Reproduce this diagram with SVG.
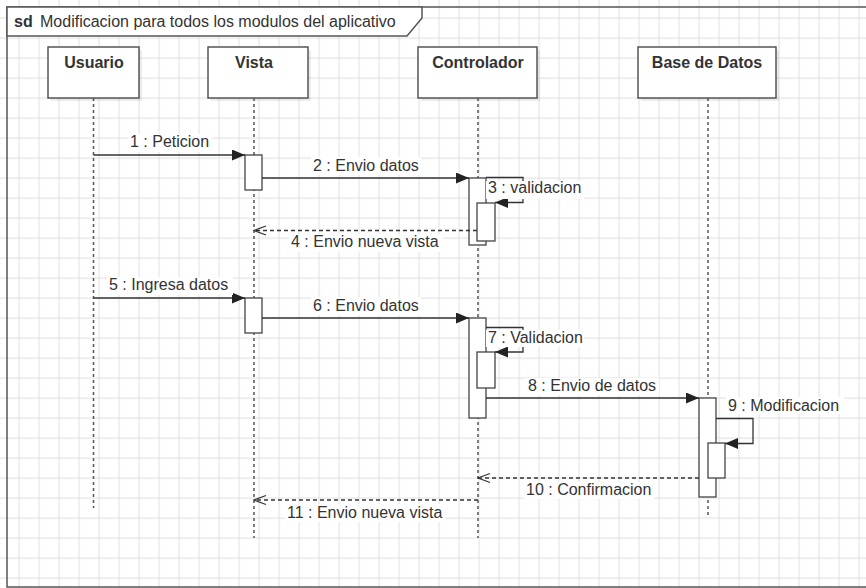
<svg xmlns="http://www.w3.org/2000/svg" width="866" height="588" viewBox="0 0 866 588">
  <style>
    .lbl { font-family: "Liberation Sans", Arial, sans-serif; font-size: 16px; fill: #333; }
    .name { font-family: "Liberation Sans", Arial, sans-serif; font-size: 16px; font-weight: bold; fill: #333; text-anchor: middle; }
    .box { fill: #fff; stroke: #555; stroke-width: 1.5; }
    .shadow { fill: #000; opacity: 0.07; }
    .life { stroke: #555; stroke-width: 1.5; stroke-dasharray: 3 3; fill: none; }
    .act { fill: #fff; stroke: #444; stroke-width: 1.3; }
    .msg { stroke: #333; stroke-width: 1.3; fill: none; marker-end: url(#solidHead); }
    .ret { stroke: #333; stroke-width: 1.3; fill: none; stroke-dasharray: 4 3; marker-end: url(#openHead); }
    .bg { fill: #fff; }
  </style>
  <defs>
    <pattern id="grid" x="18.5" y="17.5" width="20" height="20" patternUnits="userSpaceOnUse">
      <path d="M0.5,0 V20 M0,0.5 H20" stroke="#e3e3e3" stroke-width="1.3" fill="none"/>
    </pattern>
    <marker id="solidHead" markerUnits="userSpaceOnUse" markerWidth="13" markerHeight="11" refX="13" refY="5.5" orient="auto">
      <path d="M0,0 L13,5.5 L0,11 z" fill="#222"/>
    </marker>
    <marker id="openHead" markerUnits="userSpaceOnUse" markerWidth="14" markerHeight="12" refX="13" refY="6" orient="auto">
      <path d="M1,1.5 L13,6 L1,10.5" fill="none" stroke="#333" stroke-width="1.3"/>
    </marker>
  </defs>

  <!-- background grid -->
  <rect x="0" y="0" width="866" height="588" fill="#fff"/>
  <rect x="0" y="0" width="866" height="588" fill="url(#grid)"/>

  <!-- sequence frame -->
  <g id="frame">
    <rect x="7" y="7" width="900" height="580" fill="none" stroke="#555" stroke-width="1.5"/>
    <path d="M7,7 H422 V18 L407,36 H7 Z" fill="#fff" stroke="#555" stroke-width="1.5"/>
    <text x="14" y="27" class="lbl" font-weight="bold">sd</text>
    <text x="40" y="27" class="lbl">Modificacion para todos los modulos del aplicativo</text>
  </g>

  <!-- lifelines -->
  <g id="usuario">
    <line x1="93.5" y1="98" x2="93.5" y2="508" class="life"/>
    <rect x="51" y="50" width="91" height="51" class="shadow"/>
    <rect x="48" y="47" width="91" height="51" class="box"/>
    <text x="94" y="68" class="name">Usuario</text>
  </g>

  <g id="vista">
    <line x1="254" y1="98" x2="254" y2="538" class="life"/>
    <rect x="211" y="50" width="100" height="51" class="shadow"/>
    <rect x="208" y="47" width="100" height="51" class="box"/>
    <text x="254" y="68" class="name">Vista</text>
    <rect x="245" y="155" width="17" height="35" class="act"/>
    <rect x="245" y="298" width="17" height="35" class="act"/>
  </g>

  <g id="controlador">
    <line x1="478" y1="98" x2="478" y2="538" class="life"/>
    <rect x="421" y="50" width="119" height="51" class="shadow"/>
    <rect x="418" y="47" width="119" height="51" class="box"/>
    <text x="478" y="68" class="name">Controlador</text>
    <rect x="469" y="178" width="17" height="67" class="act"/>
    <rect x="477" y="203" width="18" height="38" class="act"/>
    <rect x="469" y="318" width="17" height="100" class="act"/>
    <rect x="477" y="352" width="18" height="36" class="act"/>
  </g>

  <g id="base-de-datos">
    <line x1="708" y1="98" x2="708" y2="515" class="life"/>
    <rect x="641" y="50" width="138" height="51" class="shadow"/>
    <rect x="638" y="47" width="138" height="51" class="box"/>
    <text x="707" y="68" class="name">Base de Datos</text>
    <rect x="699" y="398" width="17" height="99" class="act"/>
    <rect x="708" y="443" width="17" height="35" class="act"/>
  </g>

  <!-- messages -->
  <g id="connectors">
    <line x1="93.5" y1="155" x2="245" y2="155" class="msg"/>
    <line x1="262" y1="178" x2="469" y2="178" class="msg"/>
    <path d="M486,177.5 H523 V202.5 H495" class="msg"/>
    <line x1="477" y1="230.5" x2="254" y2="230.5" class="ret"/>
    <line x1="93.5" y1="298" x2="245" y2="298" class="msg"/>
    <line x1="262" y1="318" x2="469" y2="318" class="msg"/>
    <path d="M486,327.5 H523 V352 H495" class="msg"/>
    <line x1="486" y1="398" x2="699" y2="398" class="msg"/>
    <path d="M716,418.5 H753 V443.5 H725" class="msg"/>
    <line x1="699" y1="478" x2="478" y2="478" class="ret"/>
    <line x1="478" y1="500" x2="254" y2="500" class="ret"/>
  </g>

  <!-- message labels -->
  <g id="labels">
    <rect x="128" y="134" width="84" height="18" class="bg"/>
    <text x="130" y="147" class="lbl">1 : Peticion</text>
    <rect x="311" y="157" width="110" height="18" class="bg"/>
    <text x="313" y="170.5" class="lbl">2 : Envio datos</text>
    <rect x="486" y="181" width="98" height="18" class="bg"/>
    <text x="488" y="193" class="lbl">3 : validacion</text>
    <rect x="289" y="234" width="154" height="18" class="bg"/>
    <text x="291" y="247" class="lbl">4 : Envio nueva vista</text>
    <rect x="107" y="277" width="126" height="18" class="bg"/>
    <text x="109" y="290" class="lbl">5 : Ingresa datos</text>
    <rect x="311" y="297" width="110" height="18" class="bg"/>
    <text x="313" y="310.5" class="lbl">6 : Envio datos</text>
    <rect x="486" y="330" width="98" height="17" class="bg"/>
    <text x="488" y="343" class="lbl">7 : Validacion</text>
    <rect x="526" y="378" width="133" height="17" class="bg"/>
    <text x="528" y="391" class="lbl">8 : Envio de datos</text>
    <rect x="726" y="397" width="118" height="17" class="bg"/>
    <text x="728" y="410.5" class="lbl">9 : Modificacion</text>
    <rect x="524" y="482" width="130" height="17" class="bg"/>
    <text x="526" y="495" class="lbl">10 : Confirmacion</text>
    <rect x="285" y="504" width="160" height="18" class="bg"/>
    <text x="287" y="517.5" class="lbl">11 : Envio nueva vista</text>
  </g>
</svg>
